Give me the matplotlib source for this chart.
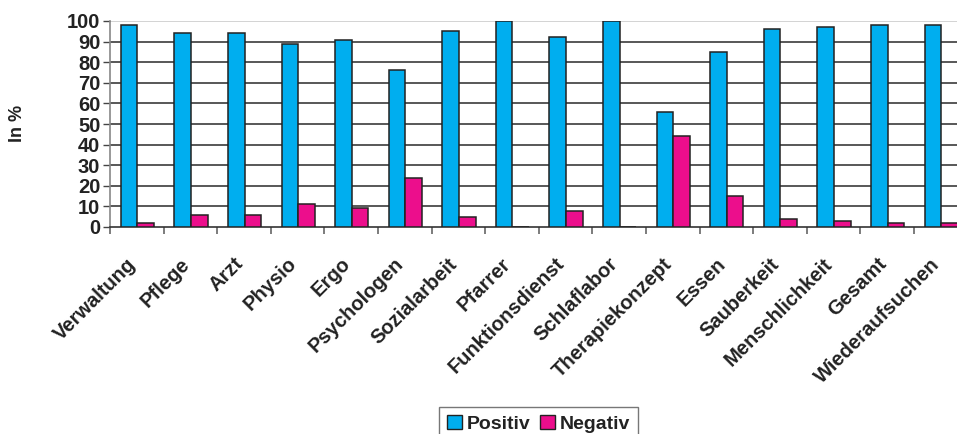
import matplotlib
matplotlib.use("Agg")
import matplotlib.pyplot as plt
import matplotlib.transforms as mtransforms
from matplotlib.patches import Patch
import numpy as np

categories = ["Verwaltung", "Pflege", "Arzt", "Physio", "Ergo", "Psychologen",
              "Sozialarbeit", "Pfarrer", "Funktionsdienst", "Schlaflabor",
              "Therapiekonzept", "Essen", "Sauberkeit", "Menschlichkeit",
              "Gesamt", "Wiederaufsuchen"]
positiv = [98, 94, 94, 89, 91, 76, 95, 100, 92, 100, 56, 85, 96, 97, 98, 98]
negativ = [2, 6, 6, 11, 9, 24, 5, 0, 8, 0, 44, 15, 4, 3, 2, 2]
y_ticks = [0, 10, 20, 30, 40, 50, 60, 70, 80, 90, 100]

BLUE = "#00AEEF"
PINK = "#EC0E8C"
EDGE = "#222222"

plt.rcParams["font.family"] = ["Liberation Sans", "DejaVu Sans"]
plt.rcParams["font.weight"] = "bold"

W, H = 957, 434
fig = plt.figure(figsize=(W / 100, H / 100), dpi=100)
ax = fig.add_axes([110 / W, 1 - 227 / H, (967.5 - 110) / W, (227 - 21) / H])

x = np.arange(len(categories))
bw = 0.31
ax.bar(x - bw / 2 + 0.01, positiv, bw, color=BLUE, edgecolor=EDGE, linewidth=1.1, zorder=3)
ax.bar(x + bw / 2 + 0.01, negativ, bw, color=PINK, edgecolor=EDGE, linewidth=1.1, zorder=3)

ax.set_xlim(-0.5, len(categories) - 0.5)
ax.set_ylim(0, 100)
ax.set_yticks(y_ticks)
ax.set_yticklabels([str(v) for v in y_ticks], fontsize=14.5, fontweight="bold", color="#222222")
ax.tick_params(axis="y", length=5, width=1, color="#444444", pad=2)

# horizontal gridlines
for v in y_ticks[1:-1]:
    ax.axhline(v, color="#2a2a2a", linewidth=1.1, zorder=1)
ax.axhline(100, color="#cccccc", linewidth=1.2, zorder=1)

for s in ["top", "right"]:
    ax.spines[s].set_visible(False)
ax.spines["left"].set_color("#888888")
ax.spines["left"].set_linewidth(1.2)
ax.spines["bottom"].set_color("#333333")
ax.spines["bottom"].set_linewidth(1.2)

# category boundary ticks
ax.set_xticks(np.arange(len(categories) + 1) - 0.5, minor=True)
ax.tick_params(axis="x", which="minor", length=5, width=1.2, color="#666666")
ax.set_xticks(x)
ax.set_xticklabels([])
ax.tick_params(axis="x", which="major", length=0)

offset = mtransforms.ScaledTranslation(-4 / 100, -34 / 100, fig.dpi_scale_trans)
label_tf = mtransforms.blended_transform_factory(ax.transData, ax.transAxes) + offset
for xi, name in zip(x, categories):
    ax.text(xi, 0, name, rotation=45, ha="right", va="center",
            rotation_mode="anchor", fontsize=14.5, fontweight="bold",
            color="#222222", transform=label_tf)

fig.text(18 / W, 1 - 123 / H, "In %", rotation=90, ha="center", va="center",
         fontsize=13, fontweight="bold", color="#222222")

handles = [Patch(facecolor=BLUE, edgecolor=EDGE, label="Positiv"),
           Patch(facecolor=PINK, edgecolor=EDGE, label="Negativ")]
leg = fig.legend(handles=handles, loc="upper center",
                 bbox_to_anchor=(538.5 / W, 1 - 407 / H), ncol=2,
                 frameon=True, fancybox=False, handlelength=0.75, handleheight=0.75,
                 handletextpad=0.25, columnspacing=0.5, borderpad=0.4,
                 borderaxespad=0, prop={"size": 14, "weight": "bold"})
leg.get_frame().set_edgecolor("#555555")
leg.get_frame().set_linewidth(1.0)
for t in leg.get_texts():
    t.set_color("#222222")

fig.savefig("out.png", dpi=100)
